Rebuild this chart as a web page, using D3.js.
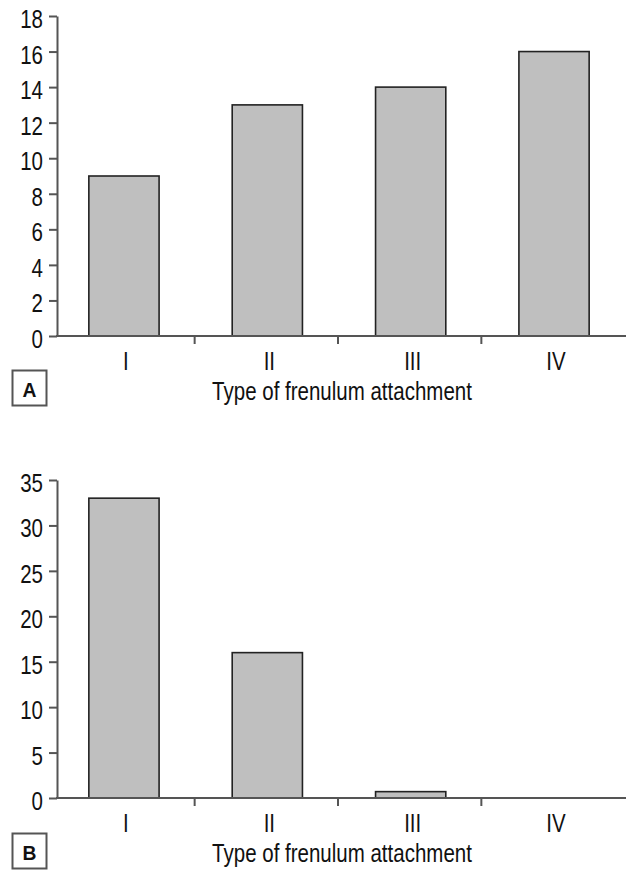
<!DOCTYPE html>
<html>
<head>
<meta charset="utf-8">
<script src="https://cdn.jsdelivr.net/npm/d3@7"></script>
<style>
  html, body { margin: 0; padding: 0; background: #fff; }
  svg text { font-family: "Liberation Sans", Arial, sans-serif; fill: #111; }
</style>
</head>
<body>
<svg id="chart" width="626" height="872"></svg>
<script>
const categories = ["I", "II", "III", "IV"];
const valuesA = [9, 13, 14, 16];
const valuesB = [33, 16, 0.7, 0];
const ticksA = [0, 2, 4, 6, 8, 10, 12, 14, 16, 18];
const ticksB = [0, 5, 10, 15, 20, 25, 30, 35];
const panelLabels = ["A", "B"];
const xTitle = "Type of frenulum attachment";

const svg = d3.select("#chart");
const NARROW = 0.82;

function narrowText(g, x, y, txt, size, anchor, weight, sx) {
  return g.append("text")
    .attr("transform", `translate(${x},${y}) scale(${sx || NARROW},1)`)
    .attr("text-anchor", anchor || "middle")
    .attr("font-size", size)
    .attr("font-weight", weight || "normal")
    .text(txt);
}

function panel(opts) {
  const g = svg.append("g");
  const x = d3.scaleBand().domain(categories).range([51, 627]).paddingInner(0.51).paddingOuter(0.264);
  const y = d3.scaleLinear().domain([0, opts.max]).range([opts.bottom, opts.top]);
  const axisX = 57;
  const axisColor = "#555";

  // bars
  g.selectAll("rect.bar").data(opts.values).enter().append("rect")
    .attr("class", "bar")
    .attr("x", (d, i) => x(categories[i]))
    .attr("width", x.bandwidth())
    .attr("y", d => y(d))
    .attr("height", d => y(0) - y(d))
    .attr("fill", "#bfbfbf")
    .attr("stroke", "#222")
    .attr("stroke-width", 1.6)
    .style("display", d => d > 0 ? null : "none");

  // y axis
  const yAxis = d3.axisLeft(y).tickValues(opts.ticks).tickSize(8).tickFormat("").tickSizeOuter(0);
  const ya = g.append("g").attr("transform", `translate(${axisX},0)`).call(yAxis);
  ya.select(".domain").attr("stroke", axisColor).attr("stroke-width", 2);
  ya.selectAll(".tick line").attr("stroke", axisColor).attr("stroke-width", 2);
  opts.ticks.forEach(t => narrowText(g, 43, y(t) + 12, String(t), 25, "end"));

  // x axis line
  g.append("line").attr("x1", axisX - 1).attr("x2", 626).attr("y1", y(0)).attr("y2", y(0))
    .attr("stroke", axisColor).attr("stroke-width", 2);
  // x boundary ticks
  const bounds = categories.slice(1).map(c => x(c) - x.step() * x.paddingInner() / 2 - 1);
  g.selectAll("line.xt").data(bounds).enter().append("line")
    .attr("x1", d => d).attr("x2", d => d)
    .attr("y1", y(0)).attr("y2", y(0) + 8)
    .attr("stroke", axisColor).attr("stroke-width", 2);
  // x labels
  categories.forEach(c => narrowText(g, x(c) + x.bandwidth() / 2 + 2, y(0) + 34, c, 25, "middle"));
  // title
  narrowText(g, 342, y(0) + 64, xTitle, 25, "middle");
  // panel label box
  g.append("rect").attr("x", 12.5).attr("y", opts.boxY).attr("width", 34).attr("height", 35)
    .attr("fill", "#fff").attr("stroke", "#555").attr("stroke-width", 2);
  narrowText(g, 29.5, opts.boxY + 26, opts.label, 21, "middle", "bold", 0.92);
}

panel({ values: valuesA, ticks: ticksA, max: 18, top: 16, bottom: 336, boxY: 370.5, label: panelLabels[0] });
panel({ values: valuesB, ticks: ticksB, max: 35, top: 480, bottom: 798, boxY: 833.5, label: panelLabels[1] });
</script>
</body>
</html>
